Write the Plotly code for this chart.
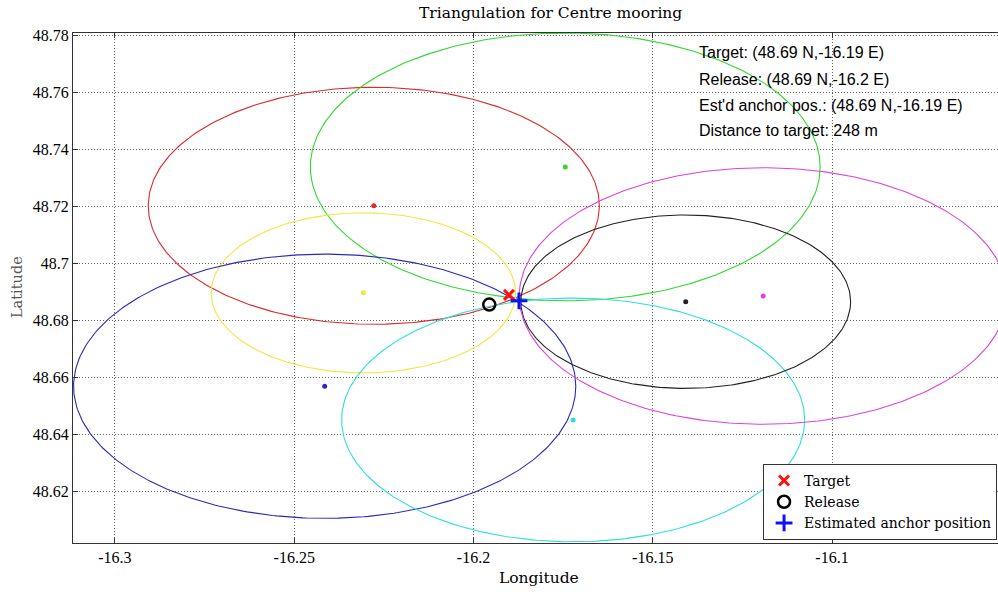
import numpy as np
import plotly.graph_objects as go

# Station (transponder) positions and ranging radii
station_lon = [-16.2278, -16.1744, -16.2307, -16.2415, -16.1722, -16.1408, -16.1192]
station_lat = [48.7202, 48.7338, 48.6897, 48.6570, 48.6452, 48.6866, 48.6886]
range_m = [4620, 5220, 3120, 5150, 4750, 3380, 5000]
station_colors = ["#dc2a2a", "#30d830", "#f2e640", "#2a2ab8", "#30dede", "#222222", "#dd40dd"]

target = (-16.1901, 48.6890)
release = (-16.1956, 48.6856)
anchor = (-16.1873, 48.6869)

info_lines = [
    "Target: (48.69 N,-16.19 E)",
    "Release: (48.69 N,-16.2 E)",
    "Est'd anchor pos.: (48.69 N,-16.19 E)",
    "Distance to target: 248 m",
]

x_ticks = [-16.3, -16.25, -16.2, -16.15, -16.1]
x_tick_text = ["-16.3", "-16.25", "-16.2", "-16.15", "-16.1"]
y_ticks = [48.62, 48.64, 48.66, 48.68, 48.7, 48.72, 48.74, 48.76, 48.78]
y_tick_text = ["48.62", "48.64", "48.66", "48.68", "48.7", "48.72", "48.74", "48.76", "48.78"]

fig = go.Figure()

t = np.linspace(0, 2 * np.pi, 361)
for lon0, lat0, r, c in zip(station_lon, station_lat, range_m, station_colors):
    dlat = r / 111320.0
    dlon = r / (111320.0 * np.cos(np.radians(lat0)))
    fig.add_trace(go.Scatter(x=lon0 + dlon * np.cos(t), y=lat0 + dlat * np.sin(t),
                             mode="lines", line=dict(color=c, width=1.1),
                             showlegend=False, hoverinfo="skip"))

fig.add_trace(go.Scatter(x=station_lon, y=station_lat, mode="markers",
                         marker=dict(color=station_colors, size=5),
                         showlegend=False))

fig.add_trace(go.Scatter(x=[target[0]], y=[target[1]], mode="markers", name="Target",
                         marker=dict(symbol="x-thin", size=10, line=dict(color="#ff1010", width=3))))
fig.add_trace(go.Scatter(x=[release[0]], y=[release[1]], mode="markers", name="Release",
                         marker=dict(symbol="circle-open", size=12, color="black",
                                     line=dict(color="black", width=2.5))))
fig.add_trace(go.Scatter(x=[anchor[0]], y=[anchor[1]], mode="markers", name="Estimated anchor position",
                         marker=dict(symbol="cross-thin", size=12, line=dict(color="#1010ff", width=3))))

serif = "Liberation Serif, Times New Roman, serif"
wserif = "DejaVu Serif, serif"
sans = "Liberation Sans, Arial, sans-serif"

annotations = [
    dict(text="Triangulation for Centre mooring", xref="paper", yref="paper",
         x=0.516, y=1.039, xanchor="center", yanchor="middle", showarrow=False,
         font=dict(family=wserif, size=15.5, color="black")),
    dict(text="Longitude", xref="paper", yref="paper", x=0.504, y=-0.0686,
         xanchor="center", yanchor="middle", showarrow=False,
         font=dict(family=wserif, size=15.5, color="black")),
    dict(text="Latitude", xref="paper", yref="paper", x=-0.0605, y=0.502,
         xanchor="center", yanchor="middle", showarrow=False, textangle=-90,
         font=dict(family=wserif, size=14.5, color="#555")),
]
for i, (line, yp) in enumerate(zip(info_lines, [0.9608, 0.9098, 0.8588, 0.8098])):
    annotations.append(dict(text=line, xref="paper", yref="paper", x=0.6746, y=yp,
                            xanchor="left", yanchor="middle", showarrow=False,
                            font=dict(family=sans, size=16, color="black")))

fig.update_layout(
    width=998, height=592,
    margin=dict(l=73, r=0, t=33, b=49, autoexpand=False),
    paper_bgcolor="white", plot_bgcolor="white",
    annotations=annotations,
    legend=dict(x=0.746, y=0.155, xanchor="left", yanchor="top",
                bgcolor="white", bordercolor="#333", borderwidth=1,
                font=dict(family=wserif, size=14, color="black"),
                itemwidth=30, tracegroupgap=0),
    showlegend=True,
)

fig.update_xaxes(range=[-16.3117, -16.0537], tickvals=x_ticks, ticktext=x_tick_text,
                 showgrid=True, gridcolor="#666", griddash="1px,2px", gridwidth=1,
                 showline=True, linecolor="#333", linewidth=1, mirror="ticks",
                 ticks="inside", ticklen=5, tickcolor="#333", zeroline=False,
                 tickfont=dict(family=serif, size=16, color="black"))
fig.update_yaxes(range=[48.6021, 48.7807], tickvals=y_ticks, ticktext=y_tick_text,
                 showgrid=True, gridcolor="#666", griddash="1px,2px", gridwidth=1,
                 showline=True, linecolor="#333", linewidth=1, mirror=False,
                 ticks="inside", ticklen=5, tickcolor="#333", zeroline=False,
                 tickfont=dict(family=serif, size=16, color="black"))

fig.write_html("out.html")
